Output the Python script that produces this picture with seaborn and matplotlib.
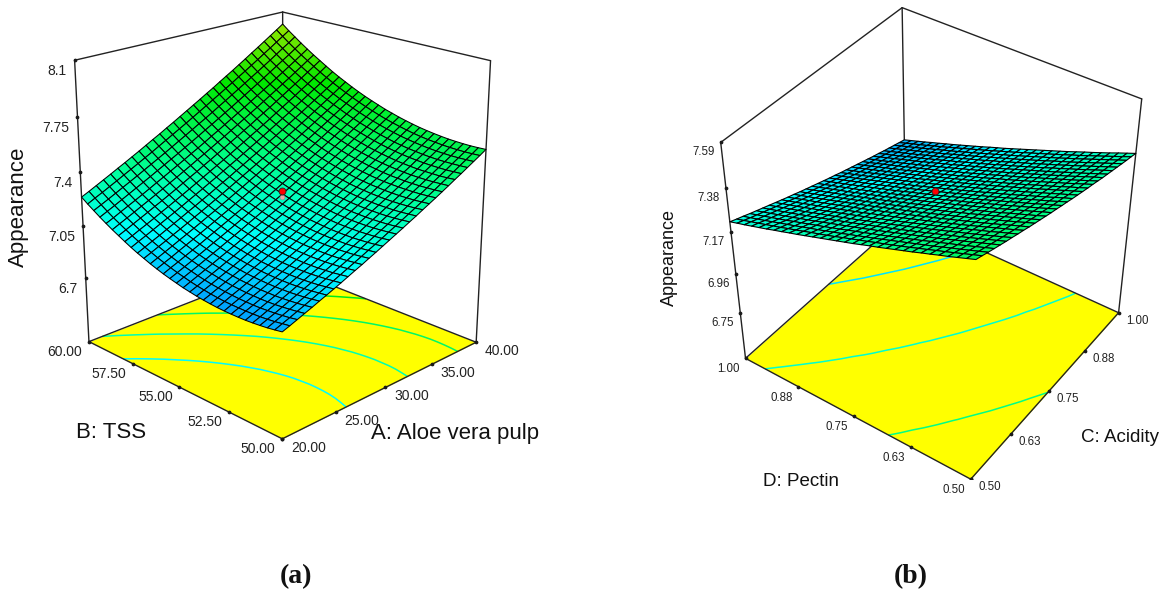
import numpy as np
import matplotlib
matplotlib.use("Agg")
import matplotlib.pyplot as plt
import matplotlib.colors as mcolors
import seaborn as sns
from mpl_toolkits.mplot3d import proj3d

# Panel (a). Axis ticks as printed on the chart.
aloe_ticks = [20, 25, 30, 35, 40]
aloe_labels = ["20.00", "25.00", "30.00", "35.00", "40.00"]
tss_ticks = [50, 52.5, 55, 57.5, 60]
tss_labels = ["50.00", "52.50", "55.00", "57.50", "60.00"]
zticks_a = [6.7, 7.05, 7.4, 7.75, 8.1]
zlabels_a = ["6.7", "7.05", "7.4", "7.75", "8.1"]
levels_a = [7.085, 7.28, 7.47, 7.66, 7.85]
centre_a = [30, 55, 7.28]
centre_low_a = [30, 55, 7.24]

# Mesh heights x1000, one row per TSS line, one column per Aloe line.
# Estimates: corner, edge and contour positions were read off the picture and the
# cells between them were filled in by hand as a smooth bowl, not read one by one.
appearance_a = [
    [6918,6935,6953,6971,6989,7008,7026,7045,7064,7084,7104,7123,7144,7164,7185,7206,7227,7248,7270,7291,7314,7336,7358,7381,7404,7428,7451,7475,7499,7523,7548],
    [6910,6928,6945,6964,6982,7001,7020,7039,7058,7078,7098,7118,7138,7159,7179,7200,7222,7243,7265,7287,7309,7332,7354,7377,7401,7424,7448,7472,7496,7520,7545],
    [6903,6921,6939,6958,6976,6995,7014,7033,7053,7072,7093,7113,7133,7154,7175,7196,7218,7239,7261,7283,7306,7328,7351,7375,7398,7421,7445,7470,7494,7518,7543],
    [6898,6916,6934,6953,6972,6991,7010,7029,7049,7069,7089,7109,7130,7151,7172,7194,7215,7237,7259,7281,7304,7327,7350,7373,7397,7421,7445,7469,7493,7518,7543],
    [6894,6912,6931,6949,6968,6987,7007,7026,7046,7066,7087,7107,7128,7149,7170,7192,7214,7236,7258,7281,7303,7326,7350,7373,7397,7421,7445,7469,7494,7519,7544],
    [6891,6910,6928,6947,6966,6986,7005,7025,7045,7065,7086,7106,7128,7149,7170,7192,7214,7236,7259,7281,7304,7327,7351,7374,7398,7422,7447,7471,7496,7521,7546],
    [6890,6909,6927,6946,6966,6985,7005,7025,7045,7065,7086,7107,7128,7150,7171,7193,7215,7238,7260,7283,7306,7329,7353,7377,7401,7425,7450,7474,7499,7525,7550],
    [6890,6909,6928,6947,6966,6986,7006,7026,7046,7067,7088,7109,7130,7152,7173,7195,7218,7240,7263,7286,7309,7333,7356,7380,7405,7429,7454,7479,7504,7529,7555],
    [6891,6910,6929,6948,6968,6988,7008,7028,7048,7069,7090,7111,7133,7155,7177,7199,7221,7244,7267,7290,7314,7337,7361,7385,7410,7434,7459,7484,7510,7535,7561],
    [6893,6912,6932,6951,6971,6991,7011,7032,7052,7073,7094,7116,7138,7159,7182,7204,7227,7249,7273,7296,7319,7343,7367,7392,7416,7441,7466,7491,7517,7542,7568],
    [6897,6916,6936,6955,6975,6995,7016,7036,7057,7078,7100,7121,7143,7165,7187,7210,7233,7256,7279,7303,7326,7350,7375,7399,7424,7449,7474,7499,7525,7551,7577],
    [6902,6921,6941,6961,6981,7001,7022,7043,7064,7085,7106,7128,7150,7172,7195,7218,7240,7264,7287,7311,7335,7359,7383,7408,7433,7458,7483,7509,7535,7561,7587],
    [6908,6928,6947,6968,6988,7008,7029,7050,7071,7092,7114,7136,7158,7181,7203,7226,7249,7273,7296,7320,7344,7369,7393,7418,7443,7468,7494,7520,7546,7572,7598],
    [6916,6935,6955,6976,6996,7017,7037,7059,7080,7102,7123,7145,7168,7190,7213,7236,7260,7283,7307,7331,7355,7380,7404,7429,7454,7480,7506,7532,7558,7584,7611],
    [6924,6944,6964,6985,7005,7026,7047,7068,7090,7112,7134,7156,7179,7201,7224,7247,7271,7295,7319,7343,7367,7392,7417,7442,7467,7493,7519,7545,7571,7598,7624],
    [6935,6955,6975,6995,7016,7037,7058,7080,7101,7123,7146,7168,7191,7214,7237,7260,7284,7308,7332,7356,7381,7405,7430,7456,7481,7507,7533,7559,7586,7613,7640],
    [6946,6966,6986,7007,7028,7049,7071,7092,7114,7136,7158,7181,7204,7227,7250,7274,7298,7322,7346,7370,7395,7420,7445,7471,7497,7523,7549,7575,7602,7629,7656],
    [6958,6979,6999,7020,7041,7062,7084,7106,7128,7150,7173,7195,7218,7242,7265,7289,7313,7337,7361,7386,7411,7436,7462,7487,7513,7539,7566,7592,7619,7646,7673],
    [6972,6993,7013,7035,7056,7077,7099,7121,7143,7166,7188,7211,7234,7258,7281,7305,7329,7354,7378,7403,7428,7454,7479,7505,7531,7557,7584,7611,7638,7665,7692],
    [6987,7008,7029,7050,7072,7093,7115,7137,7160,7182,7205,7228,7252,7275,7299,7323,7347,7372,7397,7422,7447,7472,7498,7524,7550,7577,7603,7630,7657,7685,7712],
    [7004,7025,7046,7067,7089,7110,7132,7155,7177,7200,7223,7246,7270,7294,7318,7342,7366,7391,7416,7441,7466,7492,7518,7544,7570,7597,7624,7651,7678,7706,7734],
    [7021,7042,7064,7085,7107,7129,7151,7174,7196,7219,7242,7266,7290,7313,7338,7362,7387,7411,7437,7462,7487,7513,7539,7566,7592,7619,7646,7673,7701,7728,7756],
    [7040,7062,7083,7105,7127,7149,7171,7194,7217,7240,7263,7287,7310,7335,7359,7383,7408,7433,7458,7484,7510,7536,7562,7588,7615,7642,7669,7697,7724,7752,7780],
    [7061,7082,7104,7125,7147,7170,7192,7215,7238,7261,7285,7309,7333,7357,7381,7406,7431,7456,7482,7507,7533,7559,7586,7613,7639,7666,7694,7721,7749,7777,7806],
    [7083,7104,7126,7148,7170,7193,7215,7238,7261,7285,7309,7332,7357,7381,7406,7431,7456,7481,7507,7532,7559,7585,7611,7638,7665,7693,7720,7748,7776,7804,7833],
    [7105,7127,7149,7171,7194,7216,7239,7262,7286,7309,7333,7357,7382,7406,7431,7456,7481,7507,7533,7559,7585,7611,7638,7665,7692,7720,7747,7775,7803,7832,7860],
    [7129,7150,7173,7195,7217,7240,7263,7287,7310,7334,7358,7382,7407,7431,7456,7482,7507,7533,7559,7585,7611,7638,7665,7692,7719,7747,7775,7803,7831,7860,7889],
    [7154,7176,7198,7221,7244,7267,7290,7313,7337,7361,7385,7409,7434,7459,7484,7510,7535,7561,7587,7613,7640,7667,7694,7721,7749,7777,7805,7833,7861,7890,7919],
    [7181,7203,7225,7248,7271,7294,7317,7341,7365,7389,7413,7438,7463,7488,7513,7539,7564,7590,7617,7643,7670,7697,7724,7752,7779,7807,7835,7864,7893,7921,7951],
    [7208,7231,7253,7276,7299,7323,7346,7370,7394,7418,7443,7468,7493,7518,7543,7569,7595,7621,7648,7674,7701,7728,7756,7783,7811,7839,7868,7896,7925,7954,7983],
    [7238,7260,7283,7306,7329,7353,7376,7400,7424,7449,7474,7498,7524,7549,7575,7601,7627,7653,7680,7706,7734,7761,7788,7816,7844,7873,7901,7930,7959,7988,8018],
]

# Panel (b).
acidity_ticks = [0.5, 0.625, 0.75, 0.875, 1.0]
pectin_ticks = [0.5, 0.625, 0.75, 0.875, 1.0]
tick_labels_b = ["0.50", "0.63", "0.75", "0.88", "1.00"]
zticks_b = [6.75, 6.96, 7.17, 7.38, 7.59]
zlabels_b = ["6.75", "6.96", "7.17", "7.38", "7.59"]
levels_b = [7.06, 7.25, 7.45]
centre_b = [0.75, 0.75, 7.26]

# Same kind of estimate: one row per Pectin line, one column per Acidity line.
appearance_b = [
    [7590,7580,7569,7559,7549,7539,7530,7520,7511,7501,7492,7483,7474,7465,7457,7448,7440,7431,7423,7415,7407,7400,7392,7384,7377,7370,7363,7356,7349,7343,7336],
    [7576,7566,7555,7545,7535,7525,7515,7506,7496,7487,7478,7468,7459,7451,7442,7433,7425,7417,7408,7400,7392,7385,7377,7370,7362,7355,7348,7341,7334,7327,7321],
    [7562,7552,7541,7531,7521,7511,7501,7492,7482,7473,7463,7454,7445,7436,7427,7419,7410,7402,7394,7386,7378,7370,7362,7355,7347,7340,7333,7326,7319,7312,7306],
    [7548,7538,7527,7517,7507,7497,7487,7477,7468,7458,7449,7440,7431,7422,7413,7404,7396,7387,7379,7371,7363,7355,7347,7340,7332,7325,7318,7311,7304,7297,7290],
    [7535,7524,7514,7503,7493,7483,7473,7464,7454,7444,7435,7426,7417,7408,7399,7390,7382,7373,7365,7357,7348,7341,7333,7325,7318,7310,7303,7296,7289,7282,7275],
    [7521,7511,7500,7490,7480,7469,7459,7450,7440,7430,7421,7412,7402,7394,7385,7376,7367,7359,7350,7342,7334,7326,7318,7311,7303,7296,7288,7281,7274,7267,7260],
    [7508,7497,7486,7476,7466,7456,7446,7436,7426,7416,7407,7398,7388,7379,7370,7362,7353,7344,7336,7328,7320,7312,7304,7296,7288,7281,7274,7266,7259,7252,7246],
    [7494,7484,7473,7463,7452,7442,7432,7422,7412,7403,7393,7384,7375,7366,7357,7348,7339,7330,7322,7314,7305,7297,7290,7282,7274,7267,7259,7252,7245,7238,7231],
    [7481,7470,7460,7449,7439,7429,7419,7409,7399,7389,7380,7370,7361,7352,7343,7334,7325,7316,7308,7300,7291,7283,7275,7268,7260,7252,7245,7238,7230,7223,7216],
    [7468,7457,7447,7436,7426,7415,7405,7395,7385,7376,7366,7357,7347,7338,7329,7320,7311,7303,7294,7286,7277,7269,7261,7253,7246,7238,7231,7223,7216,7209,7202],
    [7455,7444,7434,7423,7413,7402,7392,7382,7372,7362,7353,7343,7334,7325,7315,7306,7298,7289,7280,7272,7264,7255,7247,7239,7232,7224,7216,7209,7202,7195,7188],
    [7442,7431,7421,7410,7400,7389,7379,7369,7359,7349,7339,7330,7320,7311,7302,7293,7284,7275,7267,7258,7250,7242,7234,7225,7218,7210,7203,7195,7188,7181,7174],
    [7430,7419,7408,7397,7387,7376,7366,7356,7346,7336,7326,7317,7307,7298,7289,7280,7271,7262,7253,7245,7236,7228,7220,7212,7204,7196,7189,7181,7174,7167,7160],
    [7417,7406,7395,7384,7374,7363,7353,7343,7333,7323,7313,7303,7294,7285,7275,7266,7257,7248,7240,7231,7223,7214,7206,7198,7190,7183,7175,7167,7160,7153,7146],
    [7404,7394,7383,7372,7361,7351,7340,7330,7320,7310,7300,7291,7281,7272,7262,7253,7244,7235,7226,7218,7209,7201,7193,7185,7177,7169,7161,7154,7146,7139,7132],
    [7392,7381,7370,7359,7349,7338,7328,7317,7307,7297,7287,7278,7268,7259,7249,7240,7231,7222,7213,7205,7196,7188,7179,7171,7163,7155,7148,7140,7133,7125,7118],
    [7380,7369,7358,7347,7336,7326,7315,7305,7295,7285,7275,7265,7255,7246,7236,7227,7218,7209,7200,7192,7183,7174,7166,7158,7150,7142,7134,7127,7119,7112,7104],
    [7368,7356,7345,7335,7324,7313,7303,7292,7282,7272,7262,7252,7243,7233,7224,7214,7205,7196,7187,7178,7170,7161,7153,7145,7137,7129,7121,7113,7106,7098,7091],
    [7356,7344,7333,7322,7312,7301,7290,7280,7270,7260,7250,7240,7230,7220,7211,7202,7192,7183,7174,7166,7157,7148,7140,7132,7124,7116,7108,7100,7092,7085,7078],
    [7344,7332,7321,7310,7300,7289,7278,7268,7257,7247,7237,7227,7217,7208,7198,7189,7180,7170,7162,7153,7144,7135,7127,7119,7110,7102,7095,7087,7079,7072,7064],
    [7332,7321,7309,7298,7288,7277,7266,7256,7245,7235,7225,7215,7205,7195,7186,7176,7167,7158,7149,7140,7131,7123,7114,7106,7098,7090,7082,7074,7066,7059,7051],
    [7320,7309,7298,7287,7276,7265,7254,7244,7233,7223,7213,7203,7193,7183,7174,7164,7155,7146,7136,7128,7119,7110,7102,7093,7085,7077,7069,7061,7053,7046,7038],
    [7309,7297,7286,7275,7264,7253,7242,7232,7221,7211,7201,7191,7181,7171,7161,7152,7143,7133,7124,7115,7106,7098,7089,7080,7072,7064,7056,7048,7040,7033,7025],
    [7297,7286,7274,7263,7252,7241,7231,7220,7209,7199,7189,7179,7169,7159,7149,7140,7130,7121,7112,7103,7094,7085,7077,7068,7060,7052,7043,7035,7028,7020,7012],
    [7286,7274,7263,7252,7241,7230,7219,7208,7198,7187,7177,7167,7157,7147,7137,7128,7118,7109,7100,7091,7082,7073,7064,7056,7047,7039,7031,7023,7015,7007,7000],
    [7274,7263,7252,7240,7229,7218,7207,7197,7186,7176,7165,7155,7145,7135,7125,7116,7106,7097,7088,7079,7070,7061,7052,7043,7035,7027,7018,7011,7003,6995,6987],
    [7263,7252,7240,7229,7218,7207,7196,7185,7175,7164,7154,7144,7134,7124,7114,7104,7095,7085,7076,7067,7058,7049,7040,7031,7023,7015,7006,6998,6990,6982,6975],
    [7252,7241,7229,7218,7207,7196,7185,7174,7163,7153,7142,7132,7122,7112,7102,7092,7083,7073,7064,7055,7046,7037,7028,7019,7011,7002,6994,6986,6978,6970,6962],
    [7241,7230,7218,7207,7196,7185,7174,7163,7152,7142,7131,7121,7111,7101,7091,7081,7071,7062,7052,7043,7034,7025,7016,7007,6999,6990,6982,6974,6966,6958,6950],
    [7231,7219,7207,7196,7185,7174,7163,7152,7141,7130,7120,7109,7099,7089,7079,7069,7060,7050,7041,7031,7022,7013,7004,6996,6987,6979,6970,6962,6954,6946,6938],
    [7220,7208,7197,7185,7174,7163,7152,7141,7130,7119,7109,7098,7088,7078,7068,7058,7048,7039,7029,7020,7011,7002,6993,6984,6975,6967,6958,6950,6942,6934,6926],
]

CMAP = mcolors.LinearSegmentedColormap.from_list(
    "design", [(0, "#00a0ff"), (0.18, "#00ffff"), (0.42, "#00ff90"), (0.74, "#00e800"), (1, "#98e800")])
FIG_W, FIG_H = 1165, 592
INK = "#222222"


def annotate_3d(ax, x, y, z, s, dx, dy, **kw):
    # anchor a label on a data point, shifted by a few pixels
    xn, yn, _ = proj3d.proj_transform(x, y, z, ax.get_proj())
    ax.annotate(s, (xn, yn), xycoords="data", xytext=(dx, dy), textcoords="offset pixels",
                annotation_clip=False, color=INK, **kw)


def draw_panel(rect, view, box, xticks, yticks, table, zlim, vrange, levels, zticks, zlabels, xlabels, ylabels,
               tick_size, label_off, mesh_lw):
    left, bottom, size = rect
    ax = plt.gcf().add_axes([left / FIG_W, bottom / FIG_H, size / FIG_W, size / FIG_H], projection="3d")
    ax.computed_zorder = False
    ax.set_axis_off()
    x0, x1, y0, y1 = xticks[0], xticks[-1], yticks[0], yticks[-1]
    z0, z1 = zlim
    ax.set_xlim3d(x0, x1)
    ax.set_ylim3d(y0, y1)
    ax.set_zlim3d(z0, z1)
    ax.view_init(view[0], view[1])
    ax.set_proj_type("persp", focal_length=view[2])
    ax.set_box_aspect(box)

    Z = np.array(table) / 1000
    X, Y = np.meshgrid(np.linspace(x0, x1, Z.shape[1]), np.linspace(y0, y1, Z.shape[0]))
    norm = mcolors.Normalize(*vrange)

    # floor and its contours
    ax.plot_surface(X, Y, np.full_like(Z, z0), color="#ffff00", shade=False, linewidth=0,
                    rstride=30, cstride=30, zorder=1)
    cs = ax.contour(X, Y, Z, levels=levels, zdir="z", offset=z0, cmap=CMAP, norm=norm, linewidths=1.1)
    cs.set_zorder(2)

    # box edges
    edges = [
        ([x0, x1], [y0, y0], [z0, z0]), ([x0, x0], [y0, y1], [z0, z0]),
        ([x1, x1], [y0, y1], [z0, z0]), ([x0, x1], [y1, y1], [z0, z0]),
        ([x0, x0], [y1, y1], [z0, z1]), ([x1, x1], [y0, y0], [z0, z1]), ([x1, x1], [y1, y1], [z0, z1]),
        ([x0, x1], [y1, y1], [z1, z1]), ([x1, x1], [y0, y1], [z1, z1]),
    ]
    for ex, ey, ez in edges:
        ax.plot(ex, ey, ez, color="#222222", lw=1.0, zorder=3)

    # tick dots
    ms = 1.7
    ax.plot(xticks, [y0] * len(xticks), [z0] * len(xticks), ls="", marker="o", ms=ms, color="k", zorder=3)
    ax.plot([x0] * len(yticks), yticks, [z0] * len(yticks), ls="", marker="o", ms=ms, color="k", zorder=3)
    ax.plot([x0] * len(zticks), [y1] * len(zticks), zticks, ls="", marker="o", ms=ms, color="k", zorder=3)

    ax.plot_surface(X, Y, Z, cmap=CMAP, norm=norm, shade=False, rstride=1, cstride=1,
                    edgecolor="black", linewidth=mesh_lw, zorder=4)

    # tick labels
    for v, s in zip(xticks, xlabels):
        annotate_3d(ax, v, y0, z0, s, *label_off["x"], fontsize=tick_size, ha="center", va="center")
    for v, s in zip(yticks, ylabels):
        annotate_3d(ax, x0, v, z0, s, *label_off["y"], fontsize=tick_size, ha="center", va="center")
    for v, s in zip(zticks, zlabels):
        annotate_3d(ax, x0, y1, v, s, *label_off["z"], fontsize=tick_size, ha="right", va="center")
    return ax


sns.set_theme(style="white")
plt.rcParams["font.family"] = ["Liberation Sans", "DejaVu Sans"]
fig = plt.figure(figsize=(FIG_W / 100, FIG_H / 100), dpi=100)

ax_a = draw_panel((32.6, 135.9, 486.6), (20.77, -134.87, 0.567), (1, 1.0026, 1.0615), aloe_ticks, tss_ticks, appearance_a,
                  (6.26, 8.1), (6.89, 8.02), levels_a, zticks_a, zlabels_a, aloe_labels, tss_labels,
                  10, {"x": (26, -9), "y": (-24, -10), "z": (-8, -11)}, 0.75)
ax_a.plot(*[[v] for v in centre_low_a], ls="", marker="o", ms=3.5, color="#f2a6a6", mec="#888888", mew=0.4, zorder=5)
ax_a.plot(*[[v] for v in centre_a], ls="", marker="o", ms=5, color="#ff0000", mec="#222222", mew=0.6, zorder=6)

ax_b = draw_panel((690.7, 113.4, 475.95), (40.46, -144.87, 0.588), (1, 0.9985, 0.9905), acidity_ticks, pectin_ticks, appearance_b,
                  (6.5, 7.59), (6.89, 8.17), levels_b, zticks_b, zlabels_b, tick_labels_b, tick_labels_b,
                  8.3, {"x": (19, -8), "y": (-17, -11), "z": (-6, -10)}, 0.8)
ax_b.plot(*[[v] for v in centre_b], ls="", marker="o", ms=5, color="#ff0000", mec="#222222", mew=0.6, zorder=6)


def label(px, py, s, size, **kw):
    fig.text(px / FIG_W, 1 - py / FIG_H, s, fontsize=size, ha="center", va="center", color="#111111", **kw)


label(18, 207, "Appearance", 16, rotation=90)
label(111, 433, "B: TSS", 16)
label(455, 434, "A: Aloe vera pulp", 16)
label(669, 258, "Appearance", 13, rotation=90)
label(801, 481, "D: Pectin", 13.5)
label(1120, 438, "C: Acidity", 13.5)
label(296, 577, "(a)", 20, family="Liberation Serif", weight="bold")
label(911, 577, "(b)", 20, family="Liberation Serif", weight="bold")

fig.savefig("out.png", dpi=100)
